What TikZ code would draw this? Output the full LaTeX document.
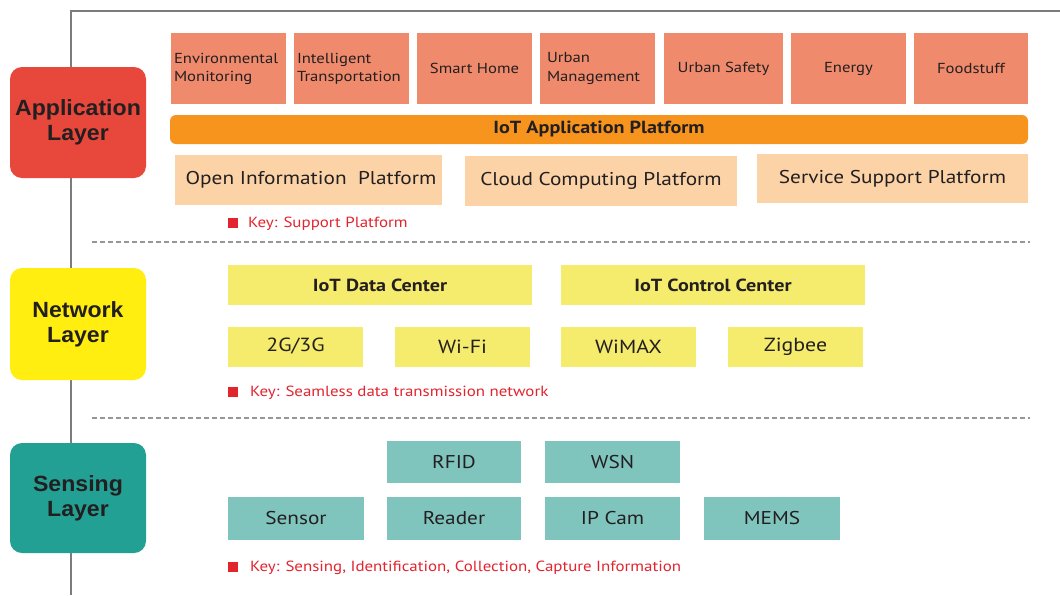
\documentclass[tikz,border=0pt]{standalone}
\usepackage{fontspec}
\setmainfont{PT Sans}[FakeStretch=1.15]
\newfontfamily\labelfont{Liberation Sans}[FakeStretch=1.05]
\definecolor{appred}{HTML}{E8473C}
\definecolor{appcell}{HTML}{F08A6C}
\definecolor{platbar}{HTML}{F7941E}
\definecolor{platcell}{HTML}{FBD3A7}
\definecolor{netyellow}{HTML}{FFEE10}
\definecolor{netcell}{HTML}{F5EB6C}
\definecolor{senteal}{HTML}{22A094}
\definecolor{sencell}{HTML}{80C4BE}
\definecolor{keyred}{HTML}{E2242F}
\definecolor{inktext}{HTML}{231F20}
\definecolor{framegray}{HTML}{7C7C7C}
\tikzset{
  layerbox/.style={rounded corners=12pt, minimum width=136pt, minimum height=110pt,
    align=center, font=\labelfont\bfseries\fontsize{22}{25}\selectfont, text=inktext, inner sep=0pt},
  cell/.style={inner sep=0pt, text=inktext, align=center},
  appbox/.style={cell, fill=appcell, minimum width=115pt, minimum height=71pt,
    font=\fontsize{14.5}{18}\selectfont},
  platbox/.style={cell, fill=platcell, minimum height=50pt, font=\fontsize{18.5}{20}\selectfont},
  netbox/.style={cell, fill=netcell, minimum height=40pt, font=\fontsize{19}{20}\selectfont},
  netwide/.style={netbox, font=\bfseries\fontsize{17.5}{20}\selectfont},
  senbox/.style={cell, fill=sencell, minimum width=135pt, minimum height=42pt,
    font=\fontsize{18.5}{20}\selectfont},
  keysq/.style={fill=keyred, minimum size=10pt, inner sep=0pt},
  keytext/.style={anchor=west, text=keyred, inner sep=0pt, font=\fontsize{14.7}{16}\selectfont},
  divider/.style={draw=framegray!80, dashed, dash pattern=on 5pt off 3pt, line width=1.3pt},
}
\begin{document}
\begin{tikzpicture}[x=1pt, y=-1pt]
\useasboundingbox[fill=white] (0,0) rectangle (1060,595);

% frame lines
\coordinate (ftl) at (71,11);
\coordinate (fbl) at (71,595);
\coordinate (ftr) at (1060,11);
\draw[framegray, line width=2pt] (fbl) -- (ftl) -- (ftr);

% section dividers
\coordinate (d1a) at (92,242);  \coordinate (d1b) at (1030,242);
\coordinate (d2a) at (92,418);  \coordinate (d2b) at (1030,418);
\draw[divider] (d1a) -- (d1b);
\draw[divider] (d2a) -- (d2b);

% layer labels
\node[layerbox, fill=appred, minimum height=111pt] (lapp) at (78,122.5) {Application\\Layer};
\node[layerbox, fill=netyellow, minimum height=112pt] (lnet) at (78,324) {Network\\Layer};
\node[layerbox, fill=senteal, minimum height=110pt] (lsen) at (78,498) {Sensing\\Layer};

% application layer
\node[appbox, align=left, text width=109pt] (env) at (228.5,68.5) {Environmental\\Monitoring};
\node[appbox, align=left, text width=109pt] (its) at (351.5,68.5) {Intelligent\\Transportation};
\node[appbox] (home) at (474.5,68.5) {Smart Home};
\node[appbox, align=left, text width=101pt] (urban) at (597.5,68.5)
  {\raisebox{6pt}{\begin{tabular}{@{}l@{}}Urban\\[1pt]Management\end{tabular}}};
\node[appbox, minimum width=119pt] (safety) at (723.5,68.5) {\raisebox{3pt}{Urban Safety}};
\node[appbox] (energy) at (848.5,68.5) {Energy};
\node[appbox, minimum width=114pt] (food) at (971,68.5) {Foodstuff};

\node[cell, fill=platbar, rounded corners=6pt, minimum width=858pt, minimum height=29pt,
  font=\bfseries\fontsize{17.5}{18}\selectfont] (iotapp) at (599,129.5) {IoT Application Platform};

\node[platbox, minimum width=267pt] (open) at (308.5,180) {\hspace*{5pt}Open Information\ \ Platform};
\node[platbox, minimum width=272pt] (cloud) at (601,181) {Cloud Computing Platform};
\node[platbox, minimum width=271pt, minimum height=49pt] (service) at (892.5,178.5) {Service Support Platform};

\node[keysq] (k1) at (233,223) {};
\node[keytext] (k1t) at (248,224) {Key: Support Platform};

% network layer
\node[netwide, minimum width=304pt] (datac) at (380,285) {IoT Data Center};
\node[netwide, minimum width=304pt] (ctrlc) at (713,285) {IoT Control Center};
\node[netbox, minimum width=135pt] (g23) at (295.5,346.5) {2G/3G};
\node[netbox, minimum width=135pt] (wifi) at (462.5,346.5) {Wi-Fi};
\node[netbox, minimum width=135pt] (wimax) at (628.5,346.5) {WiMAX};
\node[netbox, minimum width=135pt] (zigbee) at (795.5,346.5) {Zigbee};

\node[keysq] (k2) at (233,392) {};
\node[keytext] (k2t) at (250,393) {Key: Seamless data transmission network};

% sensing layer
\node[senbox, minimum width=134pt] (rfid) at (454,462) {RFID};
\node[senbox] (wsn) at (612.5,462) {WSN};
\node[senbox, minimum width=136pt, minimum height=43pt] (sensor) at (296,518.5) {Sensor};
\node[senbox, minimum width=134pt, minimum height=43pt] (reader) at (454,518.5) {Reader};
\node[senbox, minimum height=43pt] (ipcam) at (612.5,518.5) {IP Cam};
\node[senbox, minimum width=136pt, minimum height=43pt] (mems) at (772,518.5) {MEMS};

\node[keysq] (k3) at (233,567) {};
\node[keytext] (k3t) at (250,568) {Key: Sensing, Identification, Collection, Capture Information};
\end{tikzpicture}
\end{document}
